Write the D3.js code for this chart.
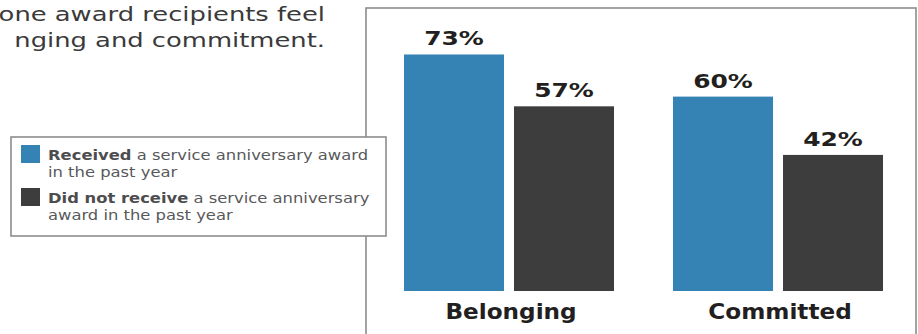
<!DOCTYPE html>
<html>
<head>
<meta charset="utf-8">
<script src="https://cdn.jsdelivr.net/npm/d3@7"></script>
<style>
  html, body { margin: 0; padding: 0; background: #fff; overflow: hidden; }
  svg { display: block; }
</style>
</head>
<body>
<svg width="918" height="334"></svg>
<script>
// Chart data
const categories = ["Belonging", "Committed"];
const series = ["received", "notReceived"];
const received = [73, 60];
const notReceived = [57, 42];
const titleLines = ["one award recipients feel", "nging and commitment."];
const legendItems = [
  { key: "received", bold: "Received", rest: [" a service anniversary award", "in the past year"] },
  { key: "notReceived", bold: "Did not receive", rest: [" a service anniversary", "award in the past year"] }
];

const colors = { received: "#3583b5", notReceived: "#3d3d3d" };

const rows = categories.map((c, i) => ({
  category: c,
  values: [
    { key: "received", value: received[i] },
    { key: "notReceived", value: notReceived[i] }
  ]
}));

const svg = d3.select("svg");

// Title (cut off at the left edge, as in the source)
svg
  .append("g")
  .attr("class", "title")
  .selectAll("text")
  .data(titleLines)
  .enter()
  .append("text")
  .attr("transform", (d, i) => `translate(325,${21 + i * 26}) scale(1.29,1)`)
  .attr("text-anchor", "end")
  .style("font-family", "DejaVu Sans, sans-serif")
  .style("font-size", "20px")
  .style("fill", "#3a3a3a")
  .text((d) => d);

// Chart frame
svg
  .append("rect")
  .attr("x", 366)
  .attr("y", 8)
  .attr("width", 550)
  .attr("height", 340)
  .attr("fill", "none")
  .attr("stroke", "#8c8c8c")
  .attr("stroke-width", 1.6);

// Scales
const x0 = d3
  .scaleBand()
  .domain(categories)
  .range([404, 883])
  .paddingInner(59 / 269)
  .paddingOuter(0);

const x1 = d3
  .scaleBand()
  .domain(series)
  .range([0, x0.bandwidth()])
  .paddingInner(10 / 110)
  .paddingOuter(0);

const y = d3.scaleLinear().domain([0, 100]).range([291, -33]);

const groups = svg
  .append("g")
  .attr("class", "bars")
  .selectAll(".group")
  .data(rows)
  .enter()
  .append("g")
  .attr("class", "group")
  .attr("transform", (d) => `translate(${x0(d.category)},0)`);

groups
  .selectAll("rect")
  .data((d) => d.values)
  .enter()
  .append("rect")
  .attr("x", (d) => x1(d.key))
  .attr("y", (d) => y(d.value))
  .attr("width", x1.bandwidth())
  .attr("height", (d) => y(0) - y(d.value))
  .attr("fill", (d) => colors[d.key]);

// Value labels (wide heavy type)
groups
  .selectAll(".value")
  .data((d) => d.values)
  .enter()
  .append("text")
  .attr("class", "value")
  .attr("transform", (d) => `translate(${x1(d.key) + x1.bandwidth() / 2},${y(d.value) - 9}) scale(1.28,1)`)
  .attr("text-anchor", "middle")
  .style("font-family", "DejaVu Sans, sans-serif")
  .style("font-weight", "bold")
  .style("font-size", "19.5px")
  .style("fill", "#231f20")
  .text((d) => d.value + "%");

// Category labels
groups
  .append("text")
  .attr("class", "category")
  .attr("transform", `translate(${x0.bandwidth() / 2 + 2},319) scale(1.13,1)`)
  .attr("text-anchor", "middle")
  .style("font-family", "DejaVu Sans, sans-serif")
  .style("font-weight", "bold")
  .style("font-size", "20.5px")
  .style("fill", "#231f20")
  .text((d) => d.category);

// Legend (drawn over the frame)
const legend = svg.append("g").attr("class", "legend");

legend
  .append("rect")
  .attr("x", 11)
  .attr("y", 137)
  .attr("width", 375)
  .attr("height", 99)
  .attr("fill", "#fff")
  .attr("stroke", "#8c8c8c")
  .attr("stroke-width", 1.6);

const items = legend
  .selectAll(".item")
  .data(legendItems)
  .enter()
  .append("g")
  .attr("class", "item")
  .attr("transform", (d, i) => `translate(0,${i * 43})`);

items
  .append("rect")
  .attr("x", 21)
  .attr("y", 145)
  .attr("width", 19)
  .attr("height", 18)
  .attr("fill", (d) => colors[d.key]);

const line1 = items
  .append("text")
  .attr("transform", "translate(48,160) scale(1.17,1)")
  .style("font-family", "DejaVu Sans, sans-serif")
  .style("font-size", "14px")
  .style("fill", "#58595b");

line1
  .append("tspan")
  .style("font-weight", "bold")
  .style("fill", "#4d4d4f")
  .text((d) => d.bold);

line1.append("tspan").text((d) => d.rest[0]);

items
  .append("text")
  .attr("transform", "translate(48,177) scale(1.17,1)")
  .style("font-family", "DejaVu Sans, sans-serif")
  .style("font-size", "14px")
  .style("fill", "#58595b")
  .text((d) => d.rest[1]);
</script>
</body>
</html>
